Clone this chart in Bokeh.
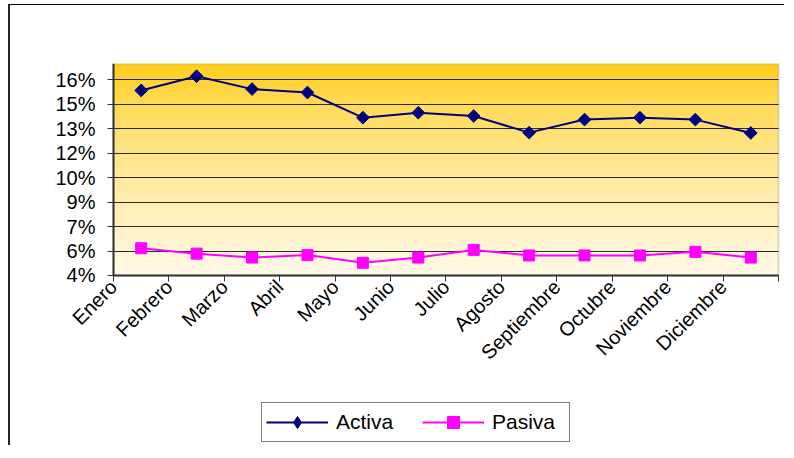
import numpy as np
from bokeh.plotting import figure
from bokeh.models import (Range1d, FixedTicker, Legend, LegendItem, LinearAxis,
                          BoxAnnotation, Grid)
from bokeh.embed import file_html
from bokeh.resources import INLINE

months = ["Enero", "Febrero", "Marzo", "Abril", "Mayo", "Junio", "Julio",
          "Agosto", "Septiembre", "Octubre", "Noviembre", "Diciembre"]
activa = [15.35, 16.22, 15.43, 15.22, 13.68, 13.98, 13.78, 12.76, 13.56, 13.68, 13.56, 12.74]
pasiva = [5.67, 5.34, 5.10, 5.25, 4.78, 5.10, 5.57, 5.23, 5.23, 5.23, 5.45, 5.10]
y_ticks = [4, 5.5, 7, 8.5, 10, 11.5, 13, 14.5, 16]
y_tick_labels = ["4%", "6%", "7%", "9%", "10%", "12%", "13%", "15%", "16%"]

FONT = "Liberation Sans"
Y_MIN, Y_MAX = 4, 17
X_MIN, X_MAX = 0, len(months)

p = figure(width=776, height=441, output_backend="svg", toolbar_location=None,
           x_axis_location=None, y_axis_location=None,
           x_range=Range1d(-1.8586, 12.1444), y_range=Range1d(-6.486, Y_MAX),
           min_border_left=0, min_border_right=0, min_border_top=58, min_border_bottom=0)
p.styles = {"margin-left": "8px", "margin-top": "4px",
            "border-left": "2px solid #222222", "border-top": "1px solid #000000"}
p.background_fill_color = "white"
p.border_fill_color = "white"
p.outline_line_color = None
for g in p.grid:
    g.visible = False

# vertical gradient background of the plot area
n = 256
t = np.linspace(0, 1, n)          # 0 bottom -> 1 top
u = 1 - t                          # 0 top -> 1 bottom
f = u ** 0.7
top = np.array([255, 204, 17])
bot = np.array([255, 249, 232])
cols = top[None, :] + (bot - top)[None, :] * f[:, None]
img = np.zeros((n, 1), dtype=np.uint32)
view = img.view(dtype=np.uint8).reshape((n, 1, 4))
view[:, 0, 0] = cols[:, 0].astype(np.uint8)
view[:, 0, 1] = cols[:, 1].astype(np.uint8)
view[:, 0, 2] = cols[:, 2].astype(np.uint8)
view[:, 0, 3] = 255
p.image_rgba(image=[img], x=X_MIN, y=Y_MIN, dw=X_MAX - X_MIN, dh=Y_MAX - Y_MIN, level="image")
p.add_layout(BoxAnnotation(left=X_MIN, right=X_MAX, bottom=Y_MIN, top=Y_MAX,
                           fill_alpha=0, line_color="#8a8a8a", line_width=2, level="underlay"))

# horizontal grid lines limited to the plot area
if "cross_bounds" in Grid.properties():
    grid = Grid(dimension=1, ticker=FixedTicker(ticks=y_ticks),
                bounds=(Y_MIN, Y_MAX), cross_bounds=(X_MIN, X_MAX),
                grid_line_color="#2a2a2a", grid_line_width=1)
    p.add_layout(grid)
else:
    p.segment(x0=[X_MIN] * len(y_ticks), y0=y_ticks, x1=[X_MAX] * len(y_ticks), y1=y_ticks,
              line_color="#2a2a2a", line_width=1, level="underlay")

x = [i + 0.5 for i in range(len(months))]

la = p.line(x, activa, line_color="#000080", line_width=2)
ma = p.scatter(x, activa, marker="square", angle=np.pi / 4, size=9,
               fill_color="#000080", line_color="#000080")
ma_leg = p.scatter(x, activa, marker="diamond", size=14,
                   fill_color="#000080", line_color="#000080", visible=False)
lp = p.line(x, pasiva, line_color="#FF00FF", line_width=2)
mp = p.scatter(x, pasiva, marker="square", size=11,
               fill_color="#FF00FF", line_color="#FF00FF")

# x axis drawn at y = 4 inside the frame
xaxis = LinearAxis(fixed_location=Y_MIN, bounds=(X_MIN, X_MAX))
xaxis.ticker = FixedTicker(ticks=list(range(X_MAX + 1)))
ov = {i: months[i] for i in range(len(months))}
ov[X_MAX] = ""
xaxis.major_label_overrides = ov
xaxis.major_label_orientation = np.pi / 4
xaxis.major_label_standoff = 2
p.add_layout(xaxis, "below")

# y axis drawn at x = 0 inside the frame
yaxis = LinearAxis(fixed_location=X_MIN, bounds=(Y_MIN, Y_MAX))
yaxis.ticker = FixedTicker(ticks=y_ticks)
yaxis.major_label_overrides = {v: s for v, s in zip(y_ticks, y_tick_labels)}
yaxis.major_label_standoff = 12
p.add_layout(yaxis, "left")

for ax in (xaxis, yaxis):
    ax.minor_tick_line_color = None
    ax.major_tick_in = 0
    ax.major_tick_out = 6
    ax.axis_line_color = "#333333"
    ax.axis_line_width = 2
    ax.major_tick_line_color = "#333333"
    ax.major_tick_line_width = 1
    ax.major_label_text_font = FONT
    ax.major_label_text_font_size = "20px"
    ax.major_label_text_color = "black"

legend = Legend(items=[LegendItem(label="Activa", renderers=[la, ma_leg]),
                       LegendItem(label="Pasiva", renderers=[lp, mp])],
                location=(251, 4), orientation="horizontal",
                border_line_color="black", border_line_width=1,
                background_fill_color="white", background_fill_alpha=1,
                padding=4, margin=0, spacing=13, label_standoff=8,
                label_width=73, glyph_width=62, glyph_height=30,
                label_text_font=FONT, label_text_font_size="21px",
                label_text_color="black")
p.add_layout(legend)

open("out.html", "w").write(file_html(p, INLINE))
